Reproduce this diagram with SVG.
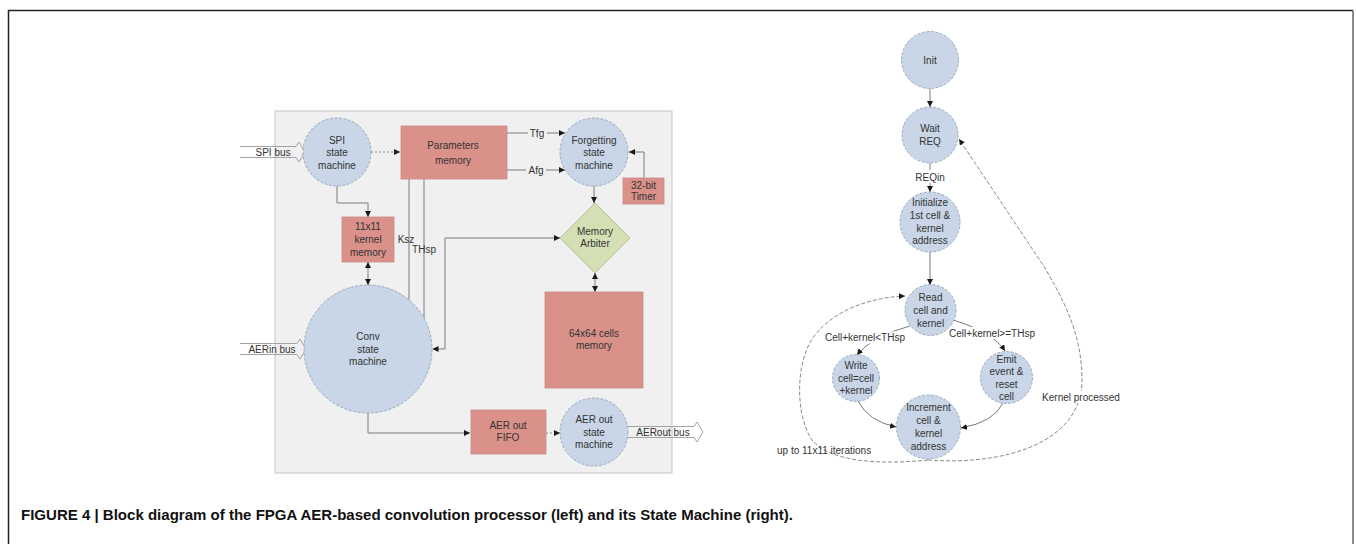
<svg xmlns="http://www.w3.org/2000/svg" width="1356" height="544" viewBox="0 0 1356 544">
  <style>
    .t { font-family: "Liberation Sans", Arial, sans-serif; font-size: 10px; fill: #333; text-anchor: middle; }
    .st { fill: #c8d6e7; stroke: #8c99a8; stroke-width: 0.8; stroke-dasharray: 3 1.5; }
    .mem { fill: #d9918a; stroke: #c98a84; stroke-width: 0.8; }
    .arb { fill: #d4e0b4; stroke: #a8b48a; stroke-width: 0.8; }
    .ln { fill: none; stroke: #7a7a7a; stroke-width: 1; }
    .dot { fill: none; stroke: #8a8a8a; stroke-width: 1; stroke-dasharray: 2 2; }
    .dash { fill: none; stroke: #8a8a8a; stroke-width: 1; stroke-dasharray: 4 2; }
    .bus { fill: none; stroke: #9a9a9a; stroke-width: 0.9; }
    .cap { font-family: "Liberation Sans", Arial, sans-serif; font-size: 14px; font-weight: bold; fill: #111; }
  </style>
  <defs>
    <marker id="arr" viewBox="0 0 10 10" refX="10" refY="5" markerWidth="6" markerHeight="6" markerUnits="userSpaceOnUse" orient="auto-start-reverse">
      <path d="M0,0 L10,5 L0,10 z" fill="#1a1a1a"/>
    </marker>
  </defs>

  <rect width="1356" height="544" fill="#fff"/>
  <!-- figure frame -->
  <path d="M8.5,544 V10.5 H1353" fill="none" stroke="#222" stroke-width="1.5"/>
  <path d="M1353,10.5 V544" fill="none" stroke="#666" stroke-width="1.5"/>

  <!-- block diagram panel -->
  <rect id="panel" x="275" y="111" width="397" height="362" fill="#f0f0f0" stroke="#c4c4c4" stroke-width="1"/>

  <g id="connectors">
    <!-- block diagram -->
    <path class="dot" d="M371,152 H400" marker-end="url(#arr)"/>
    <path class="ln" d="M507,133 H565" marker-end="url(#arr)"/>
    <path class="ln" d="M507,170 H565" marker-end="url(#arr)"/>
    <path class="ln" d="M644,178 V152 H629" marker-end="url(#arr)"/>
    <path class="ln" d="M594,186 V203" marker-end="url(#arr)"/>
    <path class="ln" d="M595,273 V292" marker-start="url(#arr)" marker-end="url(#arr)"/>
    <path class="ln" d="M337,186 V203 H368 V217" marker-end="url(#arr)"/>
    <path class="ln" d="M368,262 V285" marker-start="url(#arr)" marker-end="url(#arr)"/>
    <path class="ln" d="M409,179 V300"/>
    <path class="ln" d="M424,179 V318"/>
    <path class="ln" d="M560,238 H445 V349 H432.5" marker-start="url(#arr)" marker-end="url(#arr)"/>
    <path class="ln" d="M368,413 V433 H470" marker-end="url(#arr)"/>
    <path class="dot" d="M546,433 H560" marker-end="url(#arr)"/>

    <!-- state machine -->
    <path class="ln" d="M930,88.5 V107" marker-end="url(#arr)"/>
    <path class="ln" d="M930,163 V192" marker-end="url(#arr)"/>
    <path class="ln" d="M930,252 V285" marker-end="url(#arr)"/>
    <path class="ln" d="M910,326 Q872,336 857,355" marker-end="url(#arr)"/>
    <path class="ln" d="M953,320 Q993,332 1005,351" marker-end="url(#arr)"/>
    <path class="ln" d="M858,401 Q868,421 896,427" marker-end="url(#arr)"/>
    <path class="ln" d="M1003,403 Q994,422 961,428" marker-end="url(#arr)"/>
    <path class="dash" d="M928,460 C880,465 830,462 812,440 C795,415 795,360 815,335 C838,306 878,297 905,296" marker-end="url(#arr)"/>
    <path class="dash" d="M928,460 C1010,466 1082,440 1082,380 C1082,330 1060,295 1045,268 L959,139" marker-end="url(#arr)"/>
  </g>

  <!-- external buses -->
  <g id="spi-bus">
    <path class="bus" d="M240,146.5 H296 L299,142 L305,152 L299,162 L296,157.5 H240"/>
    <text class="t" x="273" y="155.5" font-size="9.5">SPI bus</text>
  </g>
  <g id="aerin-bus">
    <path class="bus" d="M240,343.5 H297 L300,339 L306,349 L300,359 L297,354.5 H240"/>
    <text class="t" x="272" y="352.5" font-size="9.5">AERin bus</text>
  </g>
  <g id="aerout-bus">
    <path class="bus" d="M628,426.5 H694 L697,422 L703,432 L697,442 L694,437.5 H628"/>
    <text class="t" x="663" y="435.5" font-size="9.5">AERout bus</text>
  </g>

  <!-- block diagram nodes -->
  <g id="spi-sm">
    <circle class="st" cx="337" cy="152" r="34"/>
    <text class="t" x="337" y="143.5">SPI</text>
    <text class="t" x="337" y="156">state</text>
    <text class="t" x="337" y="168.5">machine</text>
  </g>
  <g id="params-mem">
    <rect class="mem" x="401" y="126" width="106" height="53"/>
    <text class="t" x="453" y="149">Parameters</text>
    <text class="t" x="453" y="163.5">memory</text>
  </g>
  <g id="label-tfg">
    <rect x="528" y="127" width="19" height="12" fill="#f0f0f0"/>
    <text class="t" x="537" y="136.5">Tfg</text>
  </g>
  <g id="label-afg">
    <rect x="526" y="164" width="20" height="12" fill="#f0f0f0"/>
    <text class="t" x="536" y="173.5">Afg</text>
  </g>
  <g id="forget-sm">
    <circle class="st" cx="594" cy="152" r="34"/>
    <text class="t" x="594" y="143.5">Forgetting</text>
    <text class="t" x="594" y="156">state</text>
    <text class="t" x="594" y="168.5">machine</text>
  </g>
  <g id="timer">
    <rect class="mem" x="623" y="178" width="41" height="26"/>
    <text class="t" x="643.5" y="188.5">32-bit</text>
    <text class="t" x="643.5" y="200">Timer</text>
  </g>
  <g id="arbiter">
    <path class="arb" d="M595,203 L630,238 L595,273 L560,238 z"/>
    <text class="t" x="595" y="234.5">Memory</text>
    <text class="t" x="595" y="247">Arbiter</text>
  </g>
  <g id="kernel-mem">
    <rect class="mem" x="342" y="217" width="52" height="45"/>
    <text class="t" x="368" y="229.5">11x11</text>
    <text class="t" x="368" y="242.5">kernel</text>
    <text class="t" x="368" y="255.5">memory</text>
  </g>
  <g id="label-ksz">
    <text class="t" x="406" y="242.5">Ksz</text>
  </g>
  <g id="label-thsp">
    <text class="t" x="424" y="252.5">THsp</text>
  </g>
  <g id="conv-sm">
    <circle class="st" cx="368" cy="349" r="64"/>
    <text class="t" x="368" y="339.5">Conv</text>
    <text class="t" x="368" y="352.5">state</text>
    <text class="t" x="368" y="365">machine</text>
  </g>
  <g id="cells-mem">
    <rect class="mem" x="545" y="292" width="98" height="96"/>
    <text class="t" x="594" y="337">64x64 cells</text>
    <text class="t" x="594" y="349">memory</text>
  </g>
  <g id="aer-fifo">
    <rect class="mem" x="471" y="410" width="75" height="44"/>
    <text class="t" x="508" y="428.5">AER out</text>
    <text class="t" x="508" y="441">FIFO</text>
  </g>
  <g id="aerout-sm">
    <circle class="st" cx="594" cy="432" r="34"/>
    <text class="t" x="594" y="423">AER out</text>
    <text class="t" x="594" y="435.5">state</text>
    <text class="t" x="594" y="448">machine</text>
  </g>

  <!-- state machine nodes -->
  <g id="s-init">
    <circle class="st" cx="930" cy="60" r="28.5"/>
    <text class="t" x="930" y="63.5">Init</text>
  </g>
  <g id="s-wait">
    <circle class="st" cx="930" cy="135" r="28"/>
    <text class="t" x="930" y="132">Wait</text>
    <text class="t" x="930" y="144.5">REQ</text>
  </g>
  <g id="label-reqin">
    <rect x="914" y="170" width="32" height="13" fill="#fff"/>
    <text class="t" x="930" y="180.5">REQin</text>
  </g>
  <g id="s-initialize">
    <circle class="st" cx="930" cy="222" r="30"/>
    <text class="t" x="930" y="206">Initialize</text>
    <text class="t" x="930" y="219">1st cell &amp;</text>
    <text class="t" x="930" y="231.5">kernel</text>
    <text class="t" x="930" y="244">address</text>
  </g>
  <g id="s-read">
    <circle class="st" cx="930.5" cy="310" r="25.5"/>
    <text class="t" x="930.5" y="301">Read</text>
    <text class="t" x="930.5" y="314">cell and</text>
    <text class="t" x="930.5" y="326.5">kernel</text>
  </g>
  <g id="label-lt">
    <rect x="826" y="331.5" width="79" height="12" fill="#fff"/>
    <text class="t" x="865" y="341">Cell+kernel&lt;THsp</text>
  </g>
  <g id="label-ge">
    <rect x="949" y="327" width="86" height="12" fill="#fff"/>
    <text class="t" x="992" y="336.5">Cell+kernel&gt;=THsp</text>
  </g>
  <g id="s-write">
    <circle class="st" cx="856" cy="378" r="23.5"/>
    <text class="t" x="856" y="368.5">Write</text>
    <text class="t" x="856" y="381.5">cell=cell</text>
    <text class="t" x="856" y="394">+kernel</text>
  </g>
  <g id="s-emit">
    <circle class="st" cx="1006.5" cy="377.5" r="26"/>
    <text class="t" x="1006.5" y="362.5">Emit</text>
    <text class="t" x="1006.5" y="375">event &amp;</text>
    <text class="t" x="1006.5" y="387.5">reset</text>
    <text class="t" x="1006.5" y="400">cell</text>
  </g>
  <g id="s-increment">
    <circle class="st" cx="928.5" cy="427" r="32"/>
    <text class="t" x="928.5" y="410.5">Increment</text>
    <text class="t" x="928.5" y="424">cell &amp;</text>
    <text class="t" x="928.5" y="436.5">kernel</text>
    <text class="t" x="928.5" y="449.5">address</text>
  </g>
  <g id="label-iter">
    <text class="t" x="777" y="453.5" style="text-anchor:start">up to 11x11 iterations</text>
  </g>
  <g id="label-kernel-done">
    <rect x="1039" y="391" width="84" height="12" fill="#fff"/>
    <text class="t" x="1081" y="400.5">Kernel processed</text>
  </g>

  <!-- caption -->
  <text class="cap" x="21" y="520" textLength="772" lengthAdjust="spacingAndGlyphs">FIGURE 4 | Block diagram of the FPGA AER-based convolution processor (left) and its State Machine (right).</text>
</svg>
